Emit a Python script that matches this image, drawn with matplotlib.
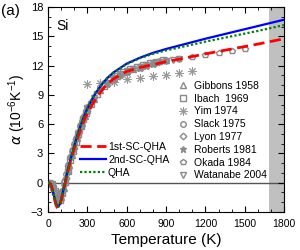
import matplotlib
matplotlib.use('Agg')
import matplotlib.pyplot as plt
from matplotlib.ticker import MultipleLocator

plt.rcParams['font.family'] = ['Liberation Sans', 'DejaVu Sans']
plt.rcParams['mathtext.fontset'] = 'custom'
plt.rcParams['mathtext.rm'] = 'Liberation Sans'

# theory curves (T in K, alpha in 1e-6/K)
T_calc = [0, 10, 20, 30, 40, 50, 60, 70, 80, 90, 100, 110, 120, 130, 140, 160, 180, 200,
          225, 250, 275, 300, 350, 400, 450, 500, 600, 700, 800, 900, 1000, 1200, 1400, 1600, 1800]
a_2nd = [0, -0.02, -0.15, -0.5, -1.0, -1.6, -2.1, -2.4, -2.45, -2.2, -1.75, -1.15, -0.55, 0.05,
         0.65, 1.8, 2.8, 3.75, 4.9, 5.9, 6.8, 7.6, 8.9, 9.9, 10.7, 11.3, 12.2, 12.8, 13.3, 13.7,
         14.05, 14.75, 15.4, 16.05, 16.7]
a_qha = [0, -0.02, -0.15, -0.5, -1.0, -1.6, -2.1, -2.4, -2.45, -2.2, -1.75, -1.15, -0.55, 0.05,
         0.65, 1.8, 2.8, 3.75, 4.9, 5.9, 6.8, 7.6, 8.9, 9.9, 10.7, 11.3, 12.15, 12.75, 13.2, 13.55,
         13.85, 14.45, 15.0, 15.55, 16.15]
a_1st = [0, -0.02, -0.17, -0.55, -1.1, -1.7, -2.25, -2.55, -2.6, -2.35, -1.9, -1.3, -0.7, -0.1,
         0.5, 1.6, 2.6, 3.5, 4.6, 5.5, 6.4, 7.1, 8.3, 9.3, 10.1, 10.65, 11.4, 11.8, 12.1, 12.4,
         12.65, 13.2, 13.7, 14.2, 14.75]

# experiments
T_gibbons = [20, 40, 60, 80, 100, 120, 140, 160, 180, 200, 220, 240, 260, 280, 300, 350, 400,
             450, 500, 550, 600, 650, 700, 750, 800, 850, 900]
a_gibbons = [0.0, -0.4, -1.2, -1.75, -1.5, -0.5, 0.7, 1.8, 2.8, 3.8, 4.6, 5.4, 6.1, 6.8, 7.4,
             8.6, 9.5, 10.2, 10.7, 11.1, 11.4, 11.7, 11.9, 12.1, 12.3, 12.45, 12.6]
T_ibach = [10, 30, 50, 70, 90, 110, 130, 150, 170, 190, 210, 230, 250, 270, 290, 325, 375, 425,
           475, 525, 575, 625, 675, 725, 775, 825, 875]
a_ibach = [0.0, -0.15, -0.85, -1.6, -1.8, -1.1, 0.1, 1.2, 2.3, 3.3, 4.2, 5.0, 5.8, 6.5, 7.1,
           8.1, 9.1, 9.9, 10.5, 10.9, 11.3, 11.6, 11.85, 12.05, 12.25, 12.4, 12.55]
T_yim = [300, 400, 500, 600, 700, 800, 900, 1000, 1100]
a_yim = [10.1, 10.25, 10.35, 10.6, 10.76, 10.9, 11.05, 11.2, 11.4]
T_slack = [5, 20, 35, 50, 65, 80, 95, 110, 125, 140, 155, 170, 185, 200, 215, 230, 245, 260,
           275, 290]
a_slack = [0.0, -0.05, -0.4, -1.0, -1.6, -1.8, -1.5, -0.8, 0.1, 0.9, 1.8, 2.6, 3.3, 4.0, 4.6,
           5.2, 5.8, 6.3, 6.8, 7.3]
T_lyon = [15, 35, 55, 75, 95, 115, 135, 155, 175, 195, 215, 235, 255, 275, 295, 315, 340]
a_lyon = [0.0, -0.3, -1.2, -1.8, -1.6, -0.7, 0.5, 1.7, 2.7, 3.6, 4.5, 5.3, 6.0, 6.7, 7.3, 7.9,
          8.5]
T_roberts = [80, 100, 120, 150, 175, 200, 225, 250, 275, 300, 350, 400, 450, 500, 550, 600,
             650, 700, 750, 800]
a_roberts = [-1.9, -1.4, -0.3, 1.3, 2.6, 3.9, 4.9, 5.9, 6.7, 7.5, 8.6, 9.5, 10.1, 10.6, 11.0,
             11.3, 11.6, 11.8, 12.0, 12.2]
T_okada = [300, 400, 500, 600, 700, 800, 900, 1000, 1100, 1200, 1300, 1400, 1500]
a_okada = [7.8, 9.6, 10.6, 11.3, 11.8, 12.2, 12.45, 12.65, 12.9, 13.1, 13.3, 13.45, 13.7]
T_watanabe = [300, 350, 400, 450, 500, 550, 600, 650, 700, 750, 800, 850, 900, 950, 1000]
a_watanabe = [7.7, 8.7, 9.5, 10.2, 10.7, 11.1, 11.4, 11.7, 11.9, 12.1, 12.3, 12.4, 12.5, 12.6,
              12.7]

T_melt = 1687

fig = plt.figure(figsize=(3, 2.5), dpi=100)
ax = fig.add_axes([0.16, 0.152, 0.787, 0.82])

ax.axvspan(T_melt, 1800, color='#c0c0c0', lw=0, zorder=0)
ax.axhline(0, color='#555555', lw=1.0, zorder=1)

gray = '#8a8a8a'
exps = [
    (T_gibbons, a_gibbons, '^', 'Gibbons 1958'),
    (T_ibach, a_ibach, 's', 'Ibach  1969'),
    (T_yim, a_yim, (8, 2, 0), 'Yim 1974'),
    (T_slack, a_slack, 'o', 'Slack 1975'),
    (T_lyon, a_lyon, 'D', 'Lyon 1977'),
    (T_roberts, a_roberts, '*', 'Roberts 1981'),
    (T_okada, a_okada, 'p', 'Okada 1984'),
    (T_watanabe, a_watanabe, 'v', 'Watanabe 2004'),
]
exp_handles = []
for T, a, m, lab in exps:
    if m == '*':
        h, = ax.plot(T, a, ls='none', marker=m, ms=4.5, color=gray, mec=gray, label=lab, zorder=2)
    elif m == (8, 2, 0):
        h, = ax.plot(T, a, ls='none', marker=m, ms=6, mew=0.7, color='#999999', label=lab, zorder=2)
    else:
        h, = ax.plot(T, a, ls='none', marker=m, ms=4 if m != 'D' else 3.4, mfc='none',
                     mec=gray, mew=1.0, label=lab, zorder=2)
    exp_handles.append(h)

l1, = ax.plot(T_calc, a_1st, color='red', ls=(0, (4, 2)), lw=2.0, label='1st-SC-QHA', zorder=4)
l2, = ax.plot(T_calc, a_2nd, color='#0000ff', lw=1.6, label='2nd-SC-QHA', zorder=3)
l3, = ax.plot(T_calc, a_qha, color='#008000', ls=(0, (1, 1)), lw=1.6, label='QHA', zorder=5)

ax.set_xlim(0, 1800)
ax.set_ylim(-3, 18)
ax.xaxis.set_major_locator(MultipleLocator(300))
ax.xaxis.set_minor_locator(MultipleLocator(100))
ax.yaxis.set_major_locator(MultipleLocator(3))
ax.yaxis.set_minor_locator(MultipleLocator(1))
ax.tick_params(which='both', direction='in', top=True, right=True, labelsize=7.5)
ax.tick_params(axis='y', labelsize=8)
ax.tick_params(axis='x', pad=5)
ax.tick_params(which='major', length=4)
ax.tick_params(which='minor', length=2)

ax.set_xlabel('Temperature (K)', fontsize=11, labelpad=3)
ax.set_ylabel(r'$\alpha$ (10$^{-6}$K$^{-1}$)', fontsize=10, labelpad=2)

ax.text(0.035, 0.94, 'Si', transform=ax.transAxes, fontsize=10, va='top')
fig.text(0.005, 0.985, '(a)', fontsize=11, va='top')

leg1 = ax.legend(handles=[l1, l2, l3], loc='upper left', bbox_to_anchor=(0.135, 0.343),
                 frameon=False, fontsize=7.5, handlelength=2.5, handletextpad=0.2,
                 labelspacing=0.3, borderpad=0, borderaxespad=0)
ax.add_artist(leg1)
ax.legend(handles=exp_handles, loc='upper left', bbox_to_anchor=(0.545, 0.64),
          frameon=False, fontsize=7.5, handlelength=1.2, handletextpad=0.5,
          labelspacing=0.27, borderpad=0, borderaxespad=0)

fig.savefig('out.png', dpi=100)
